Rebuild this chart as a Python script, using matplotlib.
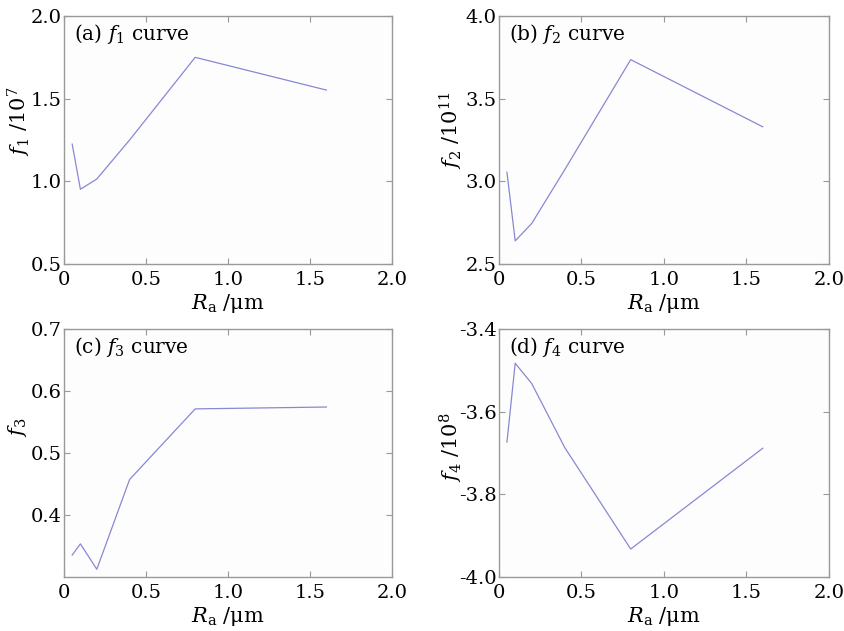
import matplotlib
matplotlib.use("Agg")
import matplotlib.pyplot as plt

plt.rcParams['font.family'] = ['DejaVu Serif']
plt.rcParams['mathtext.fontset'] = 'dejavuserif'

ra = [0.05, 0.1, 0.2, 0.4, 0.8, 1.6]
f1 = [1.225, 0.952, 1.014, 1.25, 1.75, 1.552]
f2 = [3.055, 2.64, 2.745, 3.07, 3.736, 3.33]
f3 = [0.335, 0.353, 0.312, 0.457, 0.571, 0.574]
f4 = [-3.674, -3.483, -3.532, -3.687, -3.933, -3.689]

series = [f1, f2, f3, f4]
panel_labels = ["(a) $f_{\\mathrm{1}}$ curve", "(b) $f_{\\mathrm{2}}$ curve",
                "(c) $f_{\\mathrm{3}}$ curve", "(d) $f_{\\mathrm{4}}$ curve"]
ylabels = ["$f_{\\mathrm{1}}$ /10$^{7}$", "$f_{\\mathrm{2}}$ /10$^{11}$",
           "$f_{\\mathrm{3}}$", "$f_{\\mathrm{4}}$ /10$^{8}$"]
ylims = [(0.5, 2.0), (2.5, 4.0), (0.3, 0.7), (-4.0, -3.4)]
yticks = [[0.5, 1.0, 1.5, 2.0], [2.5, 3.0, 3.5, 4.0],
          [0.4, 0.5, 0.6, 0.7], [-4.0, -3.8, -3.6, -3.4]]
ytick_labels = [["0.5", "1.0", "1.5", "2.0"], ["2.5", "3.0", "3.5", "4.0"],
                ["0.4", "0.5", "0.6", "0.7"], ["-4.0", "-3.8", "-3.6", "-3.4"]]
xticks = [0, 0.5, 1.0, 1.5, 2.0]
xtick_labels = ["0", "0.5", "1.0", "1.5", "2.0"]

fig = plt.figure(figsize=(8.44, 6.31), dpi=100)
fig.patch.set_facecolor('white')

positions = [
    (64, 16, 392, 264),
    (498.7, 16, 828.7, 264),
    (64, 329, 392, 576.7),
    (498.7, 329, 828.7, 576.7),
]
# ylabel right edge (px) and vertical centre (px)
ylabel_pos = [(33, 121), (465, 130), (29, 427), (465, 447)]
W, H = 844, 631
for i, (x0, y0, x1, y1) in enumerate(positions):
    ax = fig.add_axes([x0 / W, 1 - y1 / H, (x1 - x0) / W, (y1 - y0) / H])
    ax.set_facecolor('#fdfdfd')
    ax.plot(ra, series[i], color='#8888d4', lw=0.9)
    ax.set_xlim(0, 2.0)
    ax.set_ylim(*ylims[i])
    ax.set_xticks(xticks)
    ax.set_xticklabels(xtick_labels)
    ax.set_yticks(yticks[i])
    ax.set_yticklabels(ytick_labels[i])
    for s in ax.spines.values():
        s.set_color('#999999')
        s.set_linewidth(1.0)
    ax.tick_params(direction='in', top=True, right=True, length=4,
                   color='#999999', labelsize=14)
    ax.tick_params(axis='y', pad=1.5)
    ax.tick_params(axis='x', pad=5)
    ax.set_xlabel("$R_{\\mathrm{a}}$ /\u03bcm", fontsize=15, labelpad=2.5)
    ax.set_ylabel(ylabels[i], fontsize=15)
    lx, ly = ylabel_pos[i]
    ax.yaxis.set_label_coords((lx - x0) / (x1 - x0), (y1 - ly) / (y1 - y0))
    ax.text(0.03, 0.975, panel_labels[i], transform=ax.transAxes,
            fontsize=14.5, va='top', ha='left')

fig.savefig("out.png", dpi=100, facecolor='white')
